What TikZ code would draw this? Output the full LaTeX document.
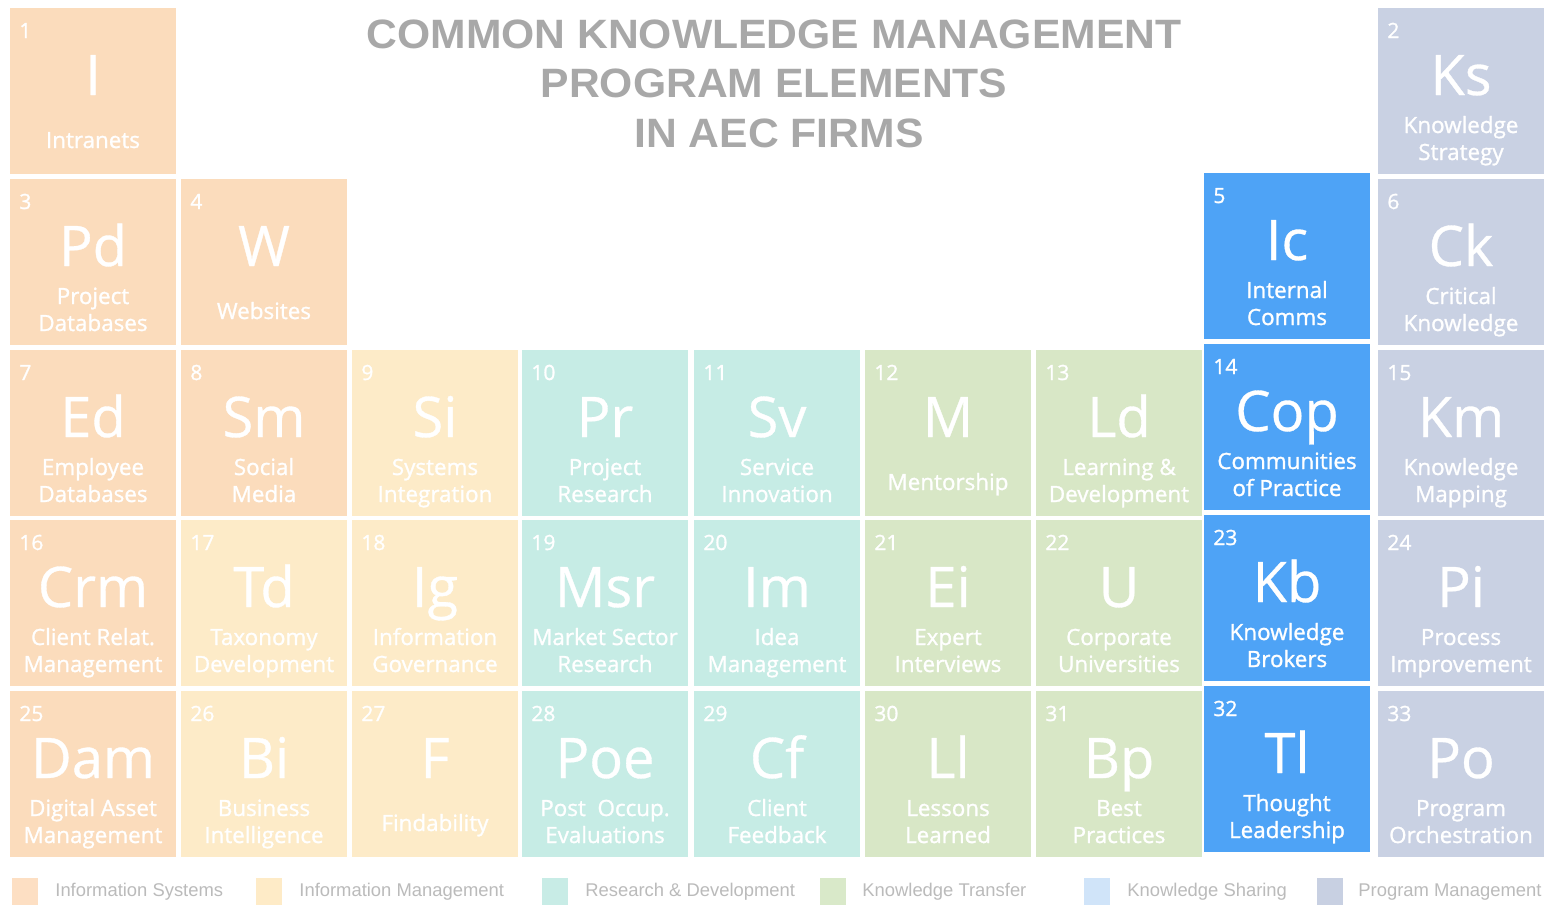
\documentclass[tikz,border=0pt]{standalone}
\usepackage{fontspec}
\setmainfont{Open Sans}
\newfontfamily\namefont{Open Sans}[FakeBold=1.2]
\newfontfamily\symfont{Open Sans}[FakeBold=0.6]
\newfontfamily\titlefont{Liberation Sans}
\usepackage{graphicx}

\definecolor{cIS}{HTML}{FBDCBC}
\definecolor{cIM}{HTML}{FDEBC8}
\definecolor{cRD}{HTML}{C6ECE5}
\definecolor{cKT}{HTML}{D8E7C6}
\definecolor{cKS}{HTML}{4EA3F6}
\definecolor{cPM}{HTML}{C9D1E3}
\definecolor{lIS}{HTML}{FDDFC3}
\definecolor{lIM}{HTML}{FEEBC7}
\definecolor{lRD}{HTML}{C8ECE6}
\definecolor{lKT}{HTML}{D9E9C9}
\definecolor{lKS}{HTML}{D0E4F9}
\definecolor{lPM}{HTML}{C8D0E2}
\definecolor{titlegray}{HTML}{A8A8A8}
\definecolor{leggray}{HTML}{BBBBBB}

\tikzset{
  cellbox/.style={draw=none, minimum width=83pt, minimum height=83pt, inner sep=0pt, outer sep=0pt},
  numtxt/.style={text=white, font=\namefont\fontsize{10.5}{12}\selectfont, inner sep=0pt, anchor=base west},
  symtxt/.style={text=white, font=\symfont\fontsize{28}{30}\selectfont, inner sep=0pt, anchor=base},
  nametxt/.style={text=white, font=\namefont\fontsize{11.2}{13}\selectfont, inner sep=0pt, anchor=base},
  titletxt/.style={text=titlegray, font=\titlefont\bfseries\fontsize{20.5}{22}\selectfont, inner sep=0pt, anchor=base},
  legsq/.style={draw=none, minimum width=13pt, minimum height=13.5pt, inner sep=0pt},
  legtxt/.style={text=leggray, font=\titlefont\fontsize{9.2}{10}\selectfont, inner sep=0pt, anchor=base west},
}

\newcommand\cellone[7]{%
  \node[cellbox, fill=#4] (#1) at (#2+83,#3+83) {};
  \node[numtxt] (#1-n) at (#2+9,#3+30) {#5};
  \node[symtxt] (#1-s) at (#2+83,#3+87) {#6};
  \node[nametxt] (#1-a) at (#2+83,#3+140) {#7};}
\newcommand\celltwo[8]{%
  \node[cellbox, fill=#4] (#1) at (#2+83,#3+83) {};
  \node[numtxt] (#1-n) at (#2+9,#3+30) {#5};
  \node[symtxt] (#1-s) at (#2+83,#3+87) {#6};
  \node[nametxt] (#1-a) at (#2+83,#3+125) {#7};
  \node[nametxt] (#1-b) at (#2+83,#3+152) {#8};}

\begin{document}
\begin{tikzpicture}[x=0.5pt, y=-0.5pt]
\useasboundingbox (0,0) rectangle (1547,905);
\fill[white] (0,0) rectangle (1547,905);

% title
\node[titletxt] (t1) at (774,48) {\scalebox{1.04}[1]{COMMON KNOWLEDGE MANAGEMENT}};
\node[titletxt] (t2) at (774,97) {\scalebox{1.04}[1]{PROGRAM ELEMENTS}};
\node[titletxt] (t3) at (779,147) {\scalebox{1.04}[1]{IN AEC FIRMS}};

% row 1
\cellone{e1}{10}{8}{cIS}{1}{I}{Intranets}
\celltwo{e2}{1378}{8}{cPM}{2}{Ks}{Knowledge}{Strategy}
% row 2
\celltwo{e3}{10}{179}{cIS}{3}{Pd}{Project}{Databases}
\cellone{e4}{181}{179}{cIS}{4}{W}{Websites}
\celltwo{e5}{1204}{173}{cKS}{5}{Ic}{Internal}{Comms}
\celltwo{e6}{1378}{179}{cPM}{6}{Ck}{Critical}{Knowledge}
% row 3
\celltwo{e7}{10}{350}{cIS}{7}{Ed}{Employee}{Databases}
\celltwo{e8}{181}{350}{cIS}{8}{Sm}{Social}{Media}
\celltwo{e9}{352}{350}{cIM}{9}{Si}{Systems}{Integration}
\celltwo{e10}{522}{350}{cRD}{10}{Pr}{Project}{Research}
\celltwo{e11}{694}{350}{cRD}{11}{Sv}{Service}{Innovation}
\cellone{e12}{865}{350}{cKT}{12}{M}{Mentorship}
\celltwo{e13}{1036}{350}{cKT}{13}{Ld}{Learning \&}{Development}
\celltwo{e14}{1204}{344}{cKS}{14}{Cop}{Communities}{of Practice}
\celltwo{e15}{1378}{350}{cPM}{15}{Km}{Knowledge}{Mapping}
% row 4
\celltwo{e16}{10}{520}{cIS}{16}{Crm}{Client Relat.}{Management}
\celltwo{e17}{181}{520}{cIM}{17}{Td}{Taxonomy}{Development}
\celltwo{e18}{352}{520}{cIM}{18}{Ig}{Information}{Governance}
\celltwo{e19}{522}{520}{cRD}{19}{Msr}{Market Sector}{Research}
\celltwo{e20}{694}{520}{cRD}{20}{Im}{Idea}{Management}
\celltwo{e21}{865}{520}{cKT}{21}{Ei}{Expert}{Interviews}
\celltwo{e22}{1036}{520}{cKT}{22}{U}{Corporate}{Universities}
\celltwo{e23}{1204}{515}{cKS}{23}{Kb}{Knowledge}{Brokers}
\celltwo{e24}{1378}{520}{cPM}{24}{Pi}{Process}{Improvement}
% row 5
\celltwo{e25}{10}{691}{cIS}{25}{Dam}{Digital Asset}{Management}
\celltwo{e26}{181}{691}{cIM}{26}{Bi}{Business}{Intelligence}
\cellone{e27}{352}{691}{cIM}{27}{F}{Findability}
\celltwo{e28}{522}{691}{cRD}{28}{Poe}{Post~ Occup.}{Evaluations}
\celltwo{e29}{694}{691}{cRD}{29}{Cf}{Client}{Feedback}
\celltwo{e30}{865}{691}{cKT}{30}{Ll}{Lessons}{Learned}
\celltwo{e31}{1036}{691}{cKT}{31}{Bp}{Best}{Practices}
\celltwo{e32}{1204}{686}{cKS}{32}{Tl}{Thought}{Leadership}
\celltwo{e33}{1378}{691}{cPM}{33}{Po}{Program}{Orchestration}

% legend
\node[legsq, fill=lIS] (l1) at (25,891.5) {};
\node[legtxt] (l1t) at (55,896) {Information Systems};
\node[legsq, fill=lIM] (l2) at (269,891.5) {};
\node[legtxt] (l2t) at (299,896) {Information Management};
\node[legsq, fill=lRD] (l3) at (555,891.5) {};
\node[legtxt] (l3t) at (585,896) {Research \& Development};
\node[legsq, fill=lKT] (l4) at (833,891.5) {};
\node[legtxt] (l4t) at (862,896) {Knowledge Transfer};
\node[legsq, fill=lKS] (l5) at (1097,891.5) {};
\node[legtxt] (l5t) at (1127,896) {Knowledge Sharing};
\node[legsq, fill=lPM] (l6) at (1330,891.5) {};
\node[legtxt] (l6t) at (1358,896) {Program Management};
\end{tikzpicture}
\end{document}
